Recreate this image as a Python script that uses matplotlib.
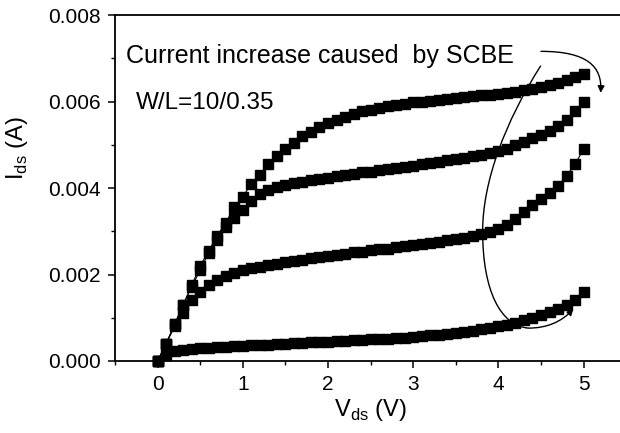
import numpy as np
import matplotlib
matplotlib.use("Agg")
import matplotlib.pyplot as plt
from matplotlib.path import Path
from matplotlib.patches import FancyArrowPatch

plt.rcParams.update(
    {
        "font.family": ["Liberation Sans", "DejaVu Sans"],
        "mathtext.fontset": "custom",
        "mathtext.rm": "Liberation Sans",
    }
)

# drain voltage sweep (V)
vds = np.round(np.arange(0, 5.01, 0.1), 1)

# drain current (A), highest gate bias first
ids_1 = [
    0.0, 0.0004, 0.00085, 0.0013, 0.00175, 0.0022, 0.00255, 0.0029, 0.0032, 0.00355,
    0.0038, 0.0041, 0.0043, 0.00455, 0.00475, 0.0049, 0.00505, 0.0052, 0.0053, 0.0054,
    0.0055, 0.00558, 0.00565, 0.00572, 0.00577, 0.00581, 0.00585, 0.00589, 0.00592, 0.00595,
    0.00598, 0.006, 0.00602, 0.00604, 0.00606, 0.00608, 0.0061, 0.00612, 0.00614, 0.00616,
    0.00618, 0.0062, 0.00623, 0.00626, 0.0063, 0.00634, 0.00638, 0.00643, 0.00649, 0.00656,
    0.00664,
]
ids_2 = [
    0.0, 0.0004, 0.00085, 0.0013, 0.00172, 0.0021, 0.0025, 0.0028, 0.0031, 0.0033,
    0.00348, 0.0037, 0.00385, 0.00395, 0.00402, 0.00407, 0.00411, 0.00415, 0.00418, 0.00421,
    0.00424, 0.00427, 0.0043, 0.00433, 0.00436, 0.00438, 0.00441, 0.00444, 0.00447, 0.00449,
    0.00452, 0.00455, 0.00458, 0.00461, 0.00464, 0.00467, 0.0047, 0.00474, 0.00477, 0.00481,
    0.00485, 0.00491, 0.005, 0.00507, 0.00515, 0.00523, 0.00532, 0.00543, 0.00557, 0.00577,
    0.006,
]
ids_3 = [
    0.0, 0.0004, 0.0008, 0.0011, 0.0014, 0.0016, 0.00175, 0.00188, 0.00197, 0.00204,
    0.0021, 0.00214, 0.00218, 0.00222, 0.00225, 0.00228, 0.00231, 0.00234, 0.00237, 0.0024,
    0.00243, 0.00246, 0.00248, 0.00251, 0.00253, 0.00256, 0.00258, 0.0026, 0.00263, 0.00265,
    0.00268, 0.0027, 0.00273, 0.00276, 0.00279, 0.00282, 0.00285, 0.00289, 0.00293, 0.00298,
    0.00305, 0.00315, 0.00328, 0.00345, 0.0036, 0.00374, 0.00388, 0.00405, 0.00428, 0.00455,
    0.0049,
]
ids_4 = [
    0.0, 0.00015, 0.00022, 0.00026, 0.00028, 0.0003, 0.00031, 0.00032, 0.00033, 0.00034,
    0.00035, 0.00036, 0.00037, 0.00038, 0.00039, 0.0004, 0.00041, 0.00042, 0.00043, 0.00044,
    0.00045, 0.00046, 0.00047, 0.00048, 0.00049, 0.0005, 0.00051, 0.00052, 0.00053, 0.00054,
    0.00056, 0.00057, 0.00059, 0.0006, 0.00062, 0.00064, 0.00067, 0.0007, 0.00073, 0.00076,
    0.0008, 0.00084, 0.00089, 0.00094, 0.001, 0.00106, 0.00113, 0.0012, 0.00129, 0.00142,
    0.0016,
]

x_ticks = [0, 1, 2, 3, 4, 5]
y_ticks = [0.000, 0.002, 0.004, 0.006, 0.008]

fig = plt.figure(figsize=(6.2, 4.33), dpi=100)
ax = fig.add_axes([0.1855, 0.1663, 0.8245, 0.799])

for ids in (ids_1, ids_2, ids_3, ids_4):
    ax.plot(vds, ids, "-", color="black", lw=0.8, marker="s", ms=6.8,
            mec="black", mfc="black", clip_on=False, zorder=3)

ax.set_xlim(-0.5, 5.5)
ax.set_ylim(0, 0.008)
ax.set_xticks(x_ticks)
ax.set_yticks(y_ticks)
ax.set_xticks(np.arange(-0.5, 5.51, 0.5), minor=True)
ax.set_yticks(np.arange(0, 0.0081, 0.001), minor=True)
ax.set_yticklabels([f"{v:.3f}" for v in y_ticks])
ax.tick_params(which="major", direction="out", length=5, width=1.1,
               labelsize=15, pad=5, colors="black")
ax.tick_params(which="minor", direction="out", length=3, width=1.0)

for side in ("left", "bottom", "top"):
    ax.spines[side].set_linewidth(1.3)
ax.spines["right"].set_visible(False)

ax.set_xlabel(r"V$_{\mathregular{ds}}$ (V)", fontsize=17)
ax.set_ylabel(r"I$_{\mathregular{ds}}$ (A)", fontsize=17)
ax.xaxis.set_label_coords(0.5, -0.105)
ax.yaxis.set_label_coords(-0.166, 0.615)

ax.text(-0.376, 0.0069, "Current increase caused  by SCBE", fontsize=18,
        ha="left", va="baseline")
ax.text(-0.258, 0.00582, "W/L=10/0.35", fontsize=17.5, ha="left", va="baseline")

# curved arrows
top_path = Path(
    [(4.50, 0.00716), (5.05, 0.00716), (5.22, 0.0068), (5.2, 0.0062)],
    [Path.MOVETO, Path.CURVE4, Path.CURVE4, Path.CURVE4],
)
ax.add_patch(FancyArrowPatch(path=top_path, arrowstyle="-|>", mutation_scale=10,
                             lw=1.0, color="black", clip_on=False))

long_path = Path(
    [(4.495, 0.00682), (4.085, 0.00555), (3.815, 0.00416), (3.815, 0.0030),
     (3.815, 0.00162), (4.026, 0.00081), (4.354, 0.00076),
     (4.67, 0.00076), (4.88, 0.0012)],
    [Path.MOVETO, Path.CURVE4, Path.CURVE4, Path.CURVE4,
     Path.CURVE4, Path.CURVE4, Path.CURVE4, Path.CURVE3, Path.CURVE3],
)
ax.add_patch(FancyArrowPatch(path=long_path, arrowstyle="-|>", mutation_scale=9,
                             lw=1.0, color="black", clip_on=False))

fig.savefig("out.png", dpi=100)
